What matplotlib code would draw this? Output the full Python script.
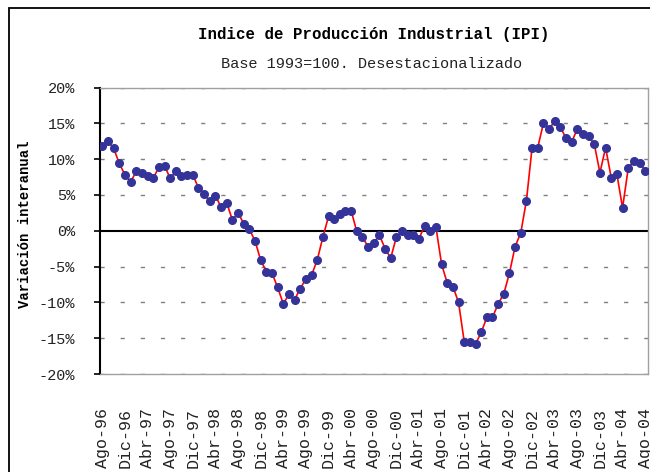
import matplotlib
matplotlib.use("Agg")
import matplotlib.pyplot as plt
from matplotlib.patches import Rectangle

values = [11.8, 12.5, 11.5, 9.4, 7.8, 6.8, 8.3, 8.0, 7.6, 7.3, 8.9, 9.1,
          7.3, 8.3, 7.6, 7.8, 7.8, 6.0, 5.2, 4.1, 4.9, 3.3, 3.9, 1.5,
          2.5, 1.0, 0.2, -1.4, -4.1, -5.7, -5.9, -7.9, -10.2, -8.9, -9.6, -8.1,
          -6.7, -6.2, -4.1, -0.9, 2.0, 1.7, 2.3, 2.8, 2.8, -0.1, -0.9, -2.2,
          -1.7, -0.6, -2.5, -3.8, -0.9, -0.1, -0.6, -0.6, -1.1, 0.7, -0.1, 0.5,
          -4.7, -7.3, -7.8, -10.0, -15.5, -15.5, -15.8, -14.2, -12.1, -12.1, -10.2, -8.8,
          -5.9, -2.2, -0.3, 4.2, 11.6, 11.6, 15.0, 14.2, 15.3, 14.5, 12.9, 12.4,
          14.2, 13.5, 13.2, 12.1, 8.1, 11.6, 7.4, 7.9, 3.2, 8.7, 9.8, 9.5, 8.4]

tick_labels = ["Ago-96", "Dic-96", "Abr-97", "Ago-97", "Dic-97", "Abr-98", "Ago-98",
               "Dic-98", "Abr-99", "Ago-99", "Dic-99", "Abr-00", "Ago-00", "Dic-00",
               "Abr-01", "Ago-01", "Dic-01", "Abr-02", "Ago-02", "Dic-02", "Abr-03",
               "Ago-03", "Dic-03", "Abr-04", "Ago-04"]
y_ticks = [20, 15, 10, 5, 0, -5, -10, -15, -20]
y_tick_labels = ["20%", "15%", "10%", "5%", "0%", "-5%", "-10%", "-15%", "-20%"]

title = "Indice de Producción Industrial (IPI)"
subtitle = "Base 1993=100. Desestacionalizado"
ylabel = "Variación interanual"

W, H = 650, 472
fig = plt.figure(figsize=(W / 100, H / 100), dpi=100)
fig.patch.set_facecolor("white")

# outer chart frame (cropped at right/bottom)
fig.patches.append(Rectangle((9 / W, -0.2), 1.5, 1 - 8 / H + 0.2, transform=fig.transFigure,
                             fill=False, edgecolor="black", linewidth=1.3))

left, right, top, bottom = 99.5 / W, 648 / W, 87.5 / H, 374 / H
ax = fig.add_axes([left, 1 - bottom, right - left, bottom - top])

x = list(range(len(values)))
ax.plot(x, values, color="#ff0000", linewidth=1.2, marker="o", markersize=5.5,
        markerfacecolor="#333399", markeredgecolor="#333399", zorder=5)

ax.set_xlim(-0.5, len(values) - 0.5)
ax.set_ylim(-20, 20)

for yv in y_ticks:
    if yv != 0:
        ax.axhline(yv, color="#808080", linewidth=1.0, dashes=(3, 11.5), zorder=1)
ax.axhline(0, color="black", linewidth=1.5, zorder=2)

ax.set_yticks(y_ticks)
ax.set_yticklabels(y_tick_labels, fontsize=11, family="Liberation Mono", color="#222222")
ax.tick_params(axis="y", direction="out", length=4.5, width=1.2, color="black", pad=13)

ax.set_xticks(x[::4])
ax.set_xticklabels(tick_labels, rotation=90, fontsize=12, family="Liberation Mono",
                   color="#222222")
ax.tick_params(axis="x", length=0, pad=68)
for lab in ax.get_xticklabels():
    lab.set_va("bottom")

for s in ["top", "right", "bottom"]:
    ax.spines[s].set_color("#a0a0a0")
    ax.spines[s].set_linewidth(1.0)
ax.spines["left"].set_color("black")
ax.spines["left"].set_linewidth(1.5)

fig.text(373.5 / W, 1 - 34 / H, title, ha="center", va="center", fontsize=11.3,
         fontweight="bold", family="Liberation Mono")
fig.text(371.5 / W, 1 - 63.5 / H, subtitle, ha="center", va="center", fontsize=11,
         family="Liberation Mono", color="#222222")
fig.text(25.5 / W, 1 - 224 / H, ylabel, ha="center", va="center", rotation=90,
         fontsize=10, fontweight="bold", family="Liberation Mono")

fig.savefig("out.png", dpi=100)
